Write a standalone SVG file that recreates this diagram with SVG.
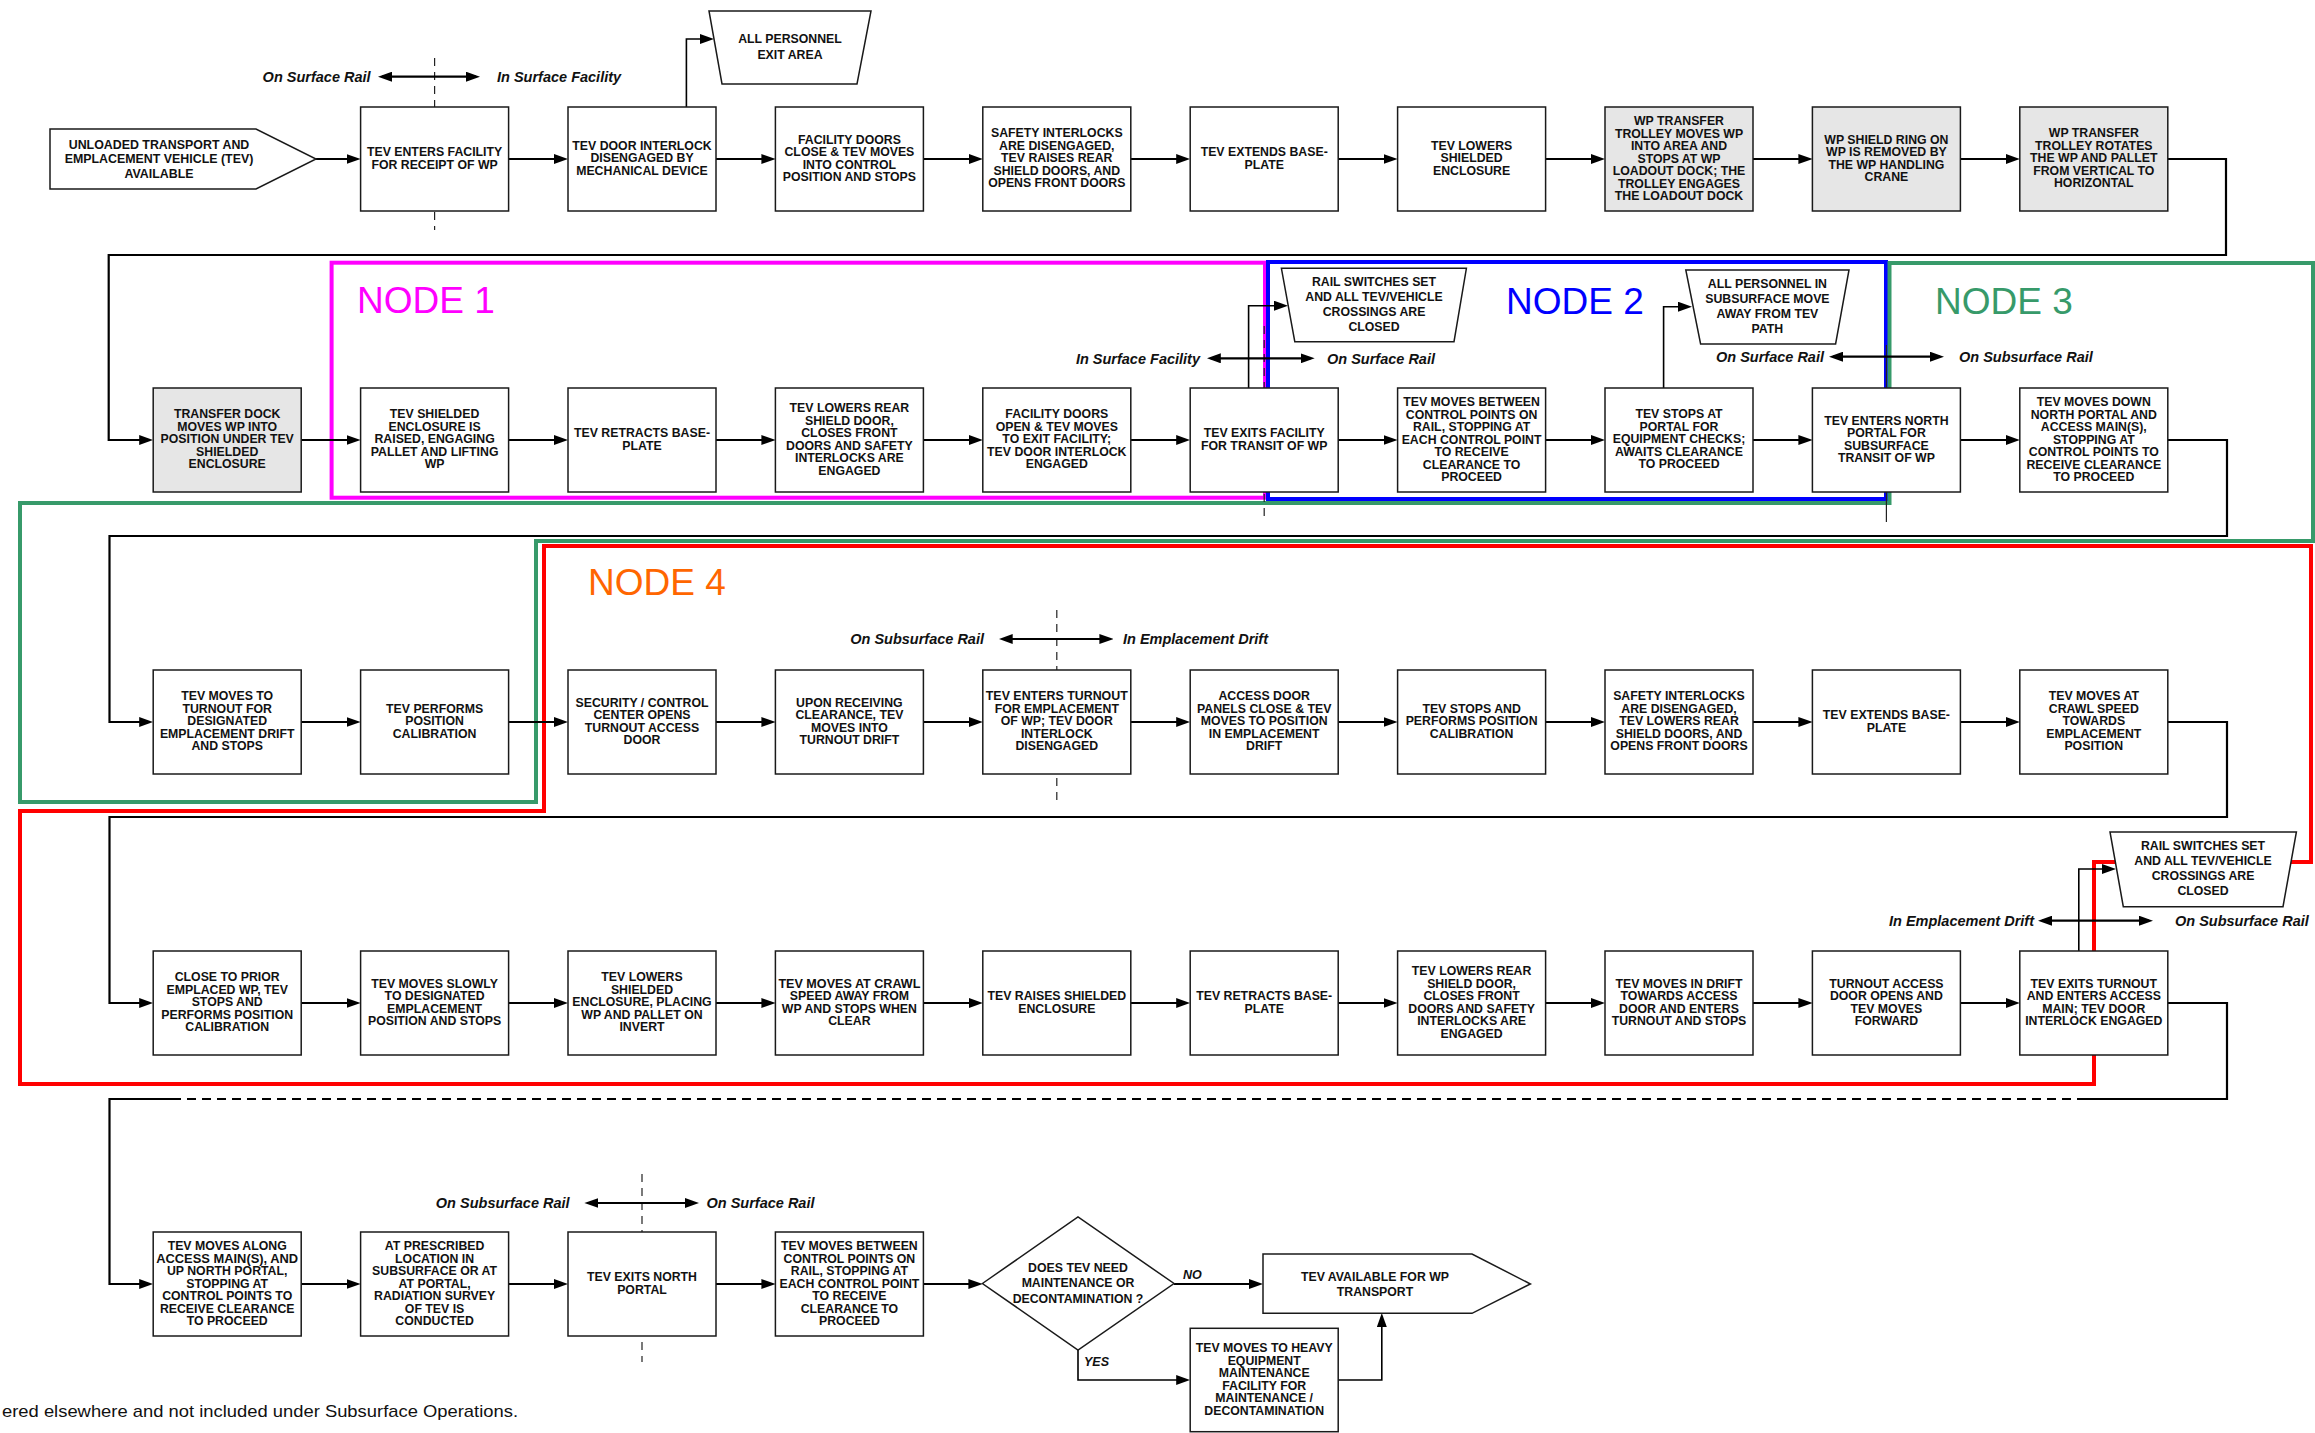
<svg xmlns="http://www.w3.org/2000/svg" width="2315" height="1433" viewBox="0 0 2315 1433">
<defs>
<style>
.box{fill:#fff;stroke:#1a1a1a;stroke-width:1.5}
.gray{fill:#e6e6e6}
.t{font-family:"Liberation Sans",Arial,sans-serif;font-weight:bold;font-size:12.3px;fill:#111;text-anchor:middle}
.tl{font-family:"Liberation Sans",Arial,sans-serif;font-weight:bold;font-size:12.4px;fill:#111;text-anchor:middle}
.lbl{font-family:"Liberation Sans",Arial,sans-serif;font-weight:bold;font-style:italic;font-size:14.5px;fill:#111}
.yn{font-family:"Liberation Sans",Arial,sans-serif;font-weight:bold;font-style:italic;font-size:12.5px;fill:#111}
.end{text-anchor:end}
.flow{fill:none;stroke:#000;stroke-width:2.2;marker-end:url(#ah)}
.plain{fill:none;stroke:#000;stroke-width:2.2}
.dash{fill:none;stroke:#000;stroke-width:2.2;stroke-dasharray:9 6}
.branch{fill:none;stroke:#000;stroke-width:1.6;marker-end:url(#ah)}
.dbl{fill:none;stroke:#000;stroke-width:2.2;marker-start:url(#ah);marker-end:url(#ah)}
.div{stroke:#222;stroke-width:1.2;stroke-dasharray:8 6}
.divs{stroke:#222;stroke-width:1.2}
.zone{fill:none;stroke-width:4}
.big{font-family:"Liberation Sans",Arial,sans-serif;font-size:37px}
.note{font-family:"Liberation Sans",Arial,sans-serif;font-size:17px;fill:#111}
</style>
<marker id="ah" viewBox="0 0 14 10" refX="10" refY="5" markerWidth="14" markerHeight="10" markerUnits="userSpaceOnUse" orient="auto-start-reverse">
<path d="M0,0 L14,5 L0,10 z" fill="#000"/>
</marker>
</defs>
<rect x="0" y="0" width="2315" height="1433" fill="#fff"/>

<!-- node groupings -->
<g id="zones">
<rect class="zone" x="331.6" y="262.7" width="933.4" height="235" stroke="#ff00ff"/>
<rect class="zone" x="1268" y="262" width="618" height="237" stroke="#0000ff"/>
<polygon class="zone" stroke="#379a6a" points="1889.5,263 2313,263 2313,541 536,541 536,802 20,802 20,503 1889.5,503"/>
<polygon class="zone" stroke="#ff0000" points="20,811 544,811 544,546 2311,546 2311,862 2094,862 2094,1084 20,1084"/>
<text class="big" x="357" y="313" fill="#ff00ff">NODE 1</text>
<text class="big" x="1506" y="314" fill="#0000ff">NODE 2</text>
<text class="big" x="1935" y="314" fill="#379a6a">NODE 3</text>
<text class="big" x="588" y="595" fill="#ff6600">NODE 4</text>
</g>

<!-- location boundaries -->
<g id="boundaries">
<line class="div" x1="434.6" y1="58" x2="434.6" y2="230"/>
<line class="div" x1="1264.2" y1="326" x2="1264.2" y2="516"/>
<line class="divs" x1="1886.4" y1="345" x2="1886.4" y2="522"/>
<line class="div" x1="1056.8" y1="610" x2="1056.8" y2="800"/>
<line class="div" x1="642" y1="1174" x2="642" y2="1362"/>
<path class="dbl" d="M382,76.7 H476"/>
<text class="lbl end" x="370.6" y="82">On Surface Rail</text>
<text class="lbl" x="497" y="82">In Surface Facility</text>
<path class="dbl" d="M1210.8,358.3 H1310.7"/>
<text class="lbl end" x="1200" y="363.5">In Surface Facility</text>
<text class="lbl" x="1327" y="363.5">On Surface Rail</text>
<path class="dbl" d="M1833,356.7 H1940"/>
<text class="lbl end" x="1824" y="362">On Surface Rail</text>
<text class="lbl" x="1959" y="362">On Subsurface Rail</text>
<path class="dbl" d="M1002.7,639 H1109.4"/>
<text class="lbl end" x="984" y="644">On Subsurface Rail</text>
<text class="lbl" x="1123" y="644">In Emplacement Drift</text>
<path class="dbl" d="M2042,920.7 H2149"/>
<text class="lbl end" x="2034" y="926">In Emplacement Drift</text>
<text class="lbl" x="2175" y="926">On Subsurface Rail</text>
<path class="dbl" d="M588.4,1203 H695"/>
<text class="lbl end" x="569.6" y="1208">On Subsurface Rail</text>
<text class="lbl" x="706.5" y="1208">On Surface Rail</text>
</g>

<g id="connectors">
<!-- row 1 -->
<path class="flow" d="M316,159 H356.6"/>
<path class="flow" d="M508.6,159 H564"/>
<path class="flow" d="M716,159 H771.4"/>
<path class="flow" d="M923.4,159 H978.8"/>
<path class="flow" d="M1130.8,159 H1186.2"/>
<path class="flow" d="M1338.2,159 H1393.6"/>
<path class="flow" d="M1545.6,159 H1601"/>
<path class="flow" d="M1753,159 H1808.4"/>
<path class="flow" d="M1960.4,159 H2015.8"/>
<path class="branch" d="M686.4,107 V39 H710"/>
<path class="flow" d="M2167.8,159 H2226 V255 H108.7 V440 H149.2"/>
<!-- row 2 -->
<path class="flow" d="M301.2,440 H356.6"/>
<path class="flow" d="M508.6,440 H564"/>
<path class="flow" d="M716,440 H771.4"/>
<path class="flow" d="M923.4,440 H978.8"/>
<path class="flow" d="M1130.8,440 H1186.2"/>
<path class="flow" d="M1338.2,440 H1393.6"/>
<path class="flow" d="M1545.6,440 H1601"/>
<path class="flow" d="M1753,440 H1808.4"/>
<path class="flow" d="M1960.4,440 H2015.8"/>
<path class="branch" d="M1248.6,388 V305.7 H1284"/>
<path class="branch" d="M1663.6,388 V306.7 H1688"/>
<path class="flow" d="M2167.8,440 H2227 V536 H109.5 V722 H149.2"/>
<!-- row 3 -->
<path class="flow" d="M301.2,722 H356.6"/>
<path class="flow" d="M508.6,722 H564"/>
<path class="flow" d="M716,722 H771.4"/>
<path class="flow" d="M923.4,722 H978.8"/>
<path class="flow" d="M1130.8,722 H1186.2"/>
<path class="flow" d="M1338.2,722 H1393.6"/>
<path class="flow" d="M1545.6,722 H1601"/>
<path class="flow" d="M1753,722 H1808.4"/>
<path class="flow" d="M1960.4,722 H2015.8"/>
<path class="flow" d="M2167.8,722 H2227 V817 H109.5 V1003 H149.2"/>
<!-- row 4 -->
<path class="flow" d="M301.2,1003 H356.6"/>
<path class="flow" d="M508.6,1003 H564"/>
<path class="flow" d="M716,1003 H771.4"/>
<path class="flow" d="M923.4,1003 H978.8"/>
<path class="flow" d="M1130.8,1003 H1186.2"/>
<path class="flow" d="M1338.2,1003 H1393.6"/>
<path class="flow" d="M1545.6,1003 H1601"/>
<path class="flow" d="M1753,1003 H1808.4"/>
<path class="flow" d="M1960.4,1003 H2015.8"/>
<path class="branch" d="M2078.8,951 V869 H2112"/>
<path class="plain" d="M2167.8,1003 H2227 V1099 H2086"/>
<path class="dash" d="M2086,1099 H181"/>
<path class="flow" d="M181,1099 H109.5 V1284 H149.2"/>
<!-- row 5 -->
<path class="flow" d="M301.2,1284 H356.6"/>
<path class="flow" d="M508.6,1284 H564"/>
<path class="flow" d="M716,1284 H771.4"/>
<path class="flow" d="M923.4,1284 H978.4"/>
<path class="flow" d="M1174,1284 H1259"/>
<path class="branch" d="M1078,1350 V1380 H1186.2"/>
<path class="branch" d="M1338.2,1380 H1381.8 V1317"/>
<text class="yn" x="1183" y="1278.5">NO</text>
<text class="yn" x="1084" y="1366">YES</text>
</g>

<!-- row 1 -->
<g id="n-start"><polygon class="box" points="50,129 256,129 316,159 256,189 50,189"/>
<text class="tl" x="159" y="149"><tspan x="159">UNLOADED TRANSPORT AND</tspan><tspan x="159" dy="14.3">EMPLACEMENT VEHICLE (TEV)</tspan><tspan x="159" dy="14.3">AVAILABLE</tspan></text></g>
<g id="n-personnel-exit"><polygon class="box" points="709,11 871,11 857,84 722,84"/>
<text class="t" x="790" y="42.8"><tspan x="790">ALL PERSONNEL</tspan><tspan x="790" dy="16">EXIT AREA</tspan></text></g>
<g id="n1-1"><rect class="box" x="360.6" y="107" width="148" height="104"/>
<text class="t" y="156"><tspan x="434.6">TEV ENTERS FACILITY</tspan><tspan x="434.6" dy="12.5">FOR RECEIPT OF WP</tspan></text></g>
<g id="n1-2"><rect class="box" x="568" y="107" width="148" height="104"/>
<text class="t" y="149.8"><tspan x="642">TEV DOOR INTERLOCK</tspan><tspan x="642" dy="12.5">DISENGAGED BY</tspan><tspan x="642" dy="12.5">MECHANICAL DEVICE</tspan></text></g>
<g id="n1-3"><rect class="box" x="775.4" y="107" width="148" height="104"/>
<text class="t" y="143.6"><tspan x="849.4">FACILITY DOORS</tspan><tspan x="849.4" dy="12.5">CLOSE &amp; TEV MOVES</tspan><tspan x="849.4" dy="12.5">INTO CONTROL</tspan><tspan x="849.4" dy="12.5">POSITION AND STOPS</tspan></text></g>
<g id="n1-4"><rect class="box" x="982.8" y="107" width="148" height="104"/>
<text class="t" y="137.4"><tspan x="1056.8">SAFETY INTERLOCKS</tspan><tspan x="1056.8" dy="12.5">ARE DISENGAGED,</tspan><tspan x="1056.8" dy="12.5">TEV RAISES REAR</tspan><tspan x="1056.8" dy="12.5">SHIELD DOORS, AND</tspan><tspan x="1056.8" dy="12.5">OPENS FRONT DOORS</tspan></text></g>
<g id="n1-5"><rect class="box" x="1190.2" y="107" width="148" height="104"/>
<text class="t" y="156"><tspan x="1264.2">TEV EXTENDS BASE-</tspan><tspan x="1264.2" dy="12.5">PLATE</tspan></text></g>
<g id="n1-6"><rect class="box" x="1397.6" y="107" width="148" height="104"/>
<text class="t" y="149.8"><tspan x="1471.6">TEV LOWERS</tspan><tspan x="1471.6" dy="12.5">SHIELDED</tspan><tspan x="1471.6" dy="12.5">ENCLOSURE</tspan></text></g>
<g id="n1-7"><rect class="box gray" x="1605" y="107" width="148" height="104"/>
<text class="t" y="125"><tspan x="1679">WP TRANSFER</tspan><tspan x="1679" dy="12.5">TROLLEY MOVES WP</tspan><tspan x="1679" dy="12.5">INTO AREA AND</tspan><tspan x="1679" dy="12.5">STOPS AT WP</tspan><tspan x="1679" dy="12.5">LOADOUT DOCK; THE</tspan><tspan x="1679" dy="12.5">TROLLEY ENGAGES</tspan><tspan x="1679" dy="12.5">THE LOADOUT DOCK</tspan></text></g>
<g id="n1-8"><rect class="box gray" x="1812.4" y="107" width="148" height="104"/>
<text class="t" y="143.6"><tspan x="1886.4">WP SHIELD RING ON</tspan><tspan x="1886.4" dy="12.5">WP IS REMOVED BY</tspan><tspan x="1886.4" dy="12.5">THE WP HANDLING</tspan><tspan x="1886.4" dy="12.5">CRANE</tspan></text></g>
<g id="n1-9"><rect class="box gray" x="2019.8" y="107" width="148" height="104"/>
<text class="t" y="137.4"><tspan x="2093.8">WP TRANSFER</tspan><tspan x="2093.8" dy="12.5">TROLLEY ROTATES</tspan><tspan x="2093.8" dy="12.5">THE WP AND PALLET</tspan><tspan x="2093.8" dy="12.5">FROM VERTICAL TO</tspan><tspan x="2093.8" dy="12.5">HORIZONTAL</tspan></text></g>

<!-- row 2 -->
<g id="n2-0"><rect class="box gray" x="153.2" y="388" width="148" height="104"/>
<text class="t" y="418.4"><tspan x="227.2">TRANSFER DOCK</tspan><tspan x="227.2" dy="12.5">MOVES WP INTO</tspan><tspan x="227.2" dy="12.5">POSITION UNDER TEV</tspan><tspan x="227.2" dy="12.5">SHIELDED</tspan><tspan x="227.2" dy="12.5">ENCLOSURE</tspan></text></g>
<g id="n2-1"><rect class="box" x="360.6" y="388" width="148" height="104"/>
<text class="t" y="418.4"><tspan x="434.6">TEV SHIELDED</tspan><tspan x="434.6" dy="12.5">ENCLOSURE IS</tspan><tspan x="434.6" dy="12.5">RAISED, ENGAGING</tspan><tspan x="434.6" dy="12.5">PALLET AND LIFTING</tspan><tspan x="434.6" dy="12.5">WP</tspan></text></g>
<g id="n2-2"><rect class="box" x="568" y="388" width="148" height="104"/>
<text class="t" y="437"><tspan x="642">TEV RETRACTS BASE-</tspan><tspan x="642" dy="12.5">PLATE</tspan></text></g>
<g id="n2-3"><rect class="box" x="775.4" y="388" width="148" height="104"/>
<text class="t" y="412.2"><tspan x="849.4">TEV LOWERS REAR</tspan><tspan x="849.4" dy="12.5">SHIELD DOOR,</tspan><tspan x="849.4" dy="12.5">CLOSES FRONT</tspan><tspan x="849.4" dy="12.5">DOORS AND SAFETY</tspan><tspan x="849.4" dy="12.5">INTERLOCKS ARE</tspan><tspan x="849.4" dy="12.5">ENGAGED</tspan></text></g>
<g id="n2-4"><rect class="box" x="982.8" y="388" width="148" height="104"/>
<text class="t" y="418.4"><tspan x="1056.8">FACILITY DOORS</tspan><tspan x="1056.8" dy="12.5">OPEN &amp; TEV MOVES</tspan><tspan x="1056.8" dy="12.5">TO EXIT FACILITY;</tspan><tspan x="1056.8" dy="12.5">TEV DOOR INTERLOCK</tspan><tspan x="1056.8" dy="12.5">ENGAGED</tspan></text></g>
<g id="n2-5"><rect class="box" x="1190.2" y="388" width="148" height="104"/>
<text class="t" y="437"><tspan x="1264.2">TEV EXITS FACILITY</tspan><tspan x="1264.2" dy="12.5">FOR TRANSIT OF WP</tspan></text></g>
<g id="n2-switches"><polygon class="box" points="1281.4,268.3 1466.4,268.3 1454,341.7 1294.8,341.7"/>
<text class="t" y="285.9"><tspan x="1374">RAIL SWITCHES SET</tspan><tspan x="1374" dy="15">AND ALL TEV/VEHICLE</tspan><tspan x="1374" dy="15">CROSSINGS ARE</tspan><tspan x="1374" dy="15">CLOSED</tspan></text></g>
<g id="n2-6"><rect class="box" x="1397.6" y="388" width="148" height="104"/>
<text class="t" y="406"><tspan x="1471.6">TEV MOVES BETWEEN</tspan><tspan x="1471.6" dy="12.5">CONTROL POINTS ON</tspan><tspan x="1471.6" dy="12.5">RAIL, STOPPING AT</tspan><tspan x="1471.6" dy="12.5">EACH CONTROL POINT</tspan><tspan x="1471.6" dy="12.5">TO RECEIVE</tspan><tspan x="1471.6" dy="12.5">CLEARANCE TO</tspan><tspan x="1471.6" dy="12.5">PROCEED</tspan></text></g>
<g id="n2-7"><rect class="box" x="1605" y="388" width="148" height="104"/>
<text class="t" y="418.4"><tspan x="1679">TEV STOPS AT</tspan><tspan x="1679" dy="12.5">PORTAL FOR</tspan><tspan x="1679" dy="12.5">EQUIPMENT CHECKS;</tspan><tspan x="1679" dy="12.5">AWAITS CLEARANCE</tspan><tspan x="1679" dy="12.5">TO PROCEED</tspan></text></g>
<g id="n2-personnel"><polygon class="box" points="1685.8,270 1849,270 1835.6,344 1700.6,344"/>
<text class="t" y="287.5"><tspan x="1767.4">ALL PERSONNEL IN</tspan><tspan x="1767.4" dy="15">SUBSURFACE MOVE</tspan><tspan x="1767.4" dy="15">AWAY FROM TEV</tspan><tspan x="1767.4" dy="15">PATH</tspan></text></g>
<g id="n2-8"><rect class="box" x="1812.4" y="388" width="148" height="104"/>
<text class="t" y="424.6"><tspan x="1886.4">TEV ENTERS NORTH</tspan><tspan x="1886.4" dy="12.5">PORTAL FOR</tspan><tspan x="1886.4" dy="12.5">SUBSURFACE</tspan><tspan x="1886.4" dy="12.5">TRANSIT OF WP</tspan></text></g>
<g id="n2-9"><rect class="box" x="2019.8" y="388" width="148" height="104"/>
<text class="t" y="406"><tspan x="2093.8">TEV MOVES DOWN</tspan><tspan x="2093.8" dy="12.5">NORTH PORTAL AND</tspan><tspan x="2093.8" dy="12.5">ACCESS MAIN(S),</tspan><tspan x="2093.8" dy="12.5">STOPPING AT</tspan><tspan x="2093.8" dy="12.5">CONTROL POINTS TO</tspan><tspan x="2093.8" dy="12.5">RECEIVE CLEARANCE</tspan><tspan x="2093.8" dy="12.5">TO PROCEED</tspan></text></g>

<!-- row 3 -->
<g id="n3-0"><rect class="box" x="153.2" y="670" width="148" height="104"/>
<text class="t" y="700.4"><tspan x="227.2">TEV MOVES TO</tspan><tspan x="227.2" dy="12.5">TURNOUT FOR</tspan><tspan x="227.2" dy="12.5">DESIGNATED</tspan><tspan x="227.2" dy="12.5">EMPLACEMENT DRIFT</tspan><tspan x="227.2" dy="12.5">AND STOPS</tspan></text></g>
<g id="n3-1"><rect class="box" x="360.6" y="670" width="148" height="104"/>
<text class="t" y="712.8"><tspan x="434.6">TEV PERFORMS</tspan><tspan x="434.6" dy="12.5">POSITION</tspan><tspan x="434.6" dy="12.5">CALIBRATION</tspan></text></g>
<g id="n3-2"><rect class="box" x="568" y="670" width="148" height="104"/>
<text class="t" y="706.6"><tspan x="642">SECURITY / CONTROL</tspan><tspan x="642" dy="12.5">CENTER OPENS</tspan><tspan x="642" dy="12.5">TURNOUT ACCESS</tspan><tspan x="642" dy="12.5">DOOR</tspan></text></g>
<g id="n3-3"><rect class="box" x="775.4" y="670" width="148" height="104"/>
<text class="t" y="706.6"><tspan x="849.4">UPON RECEIVING</tspan><tspan x="849.4" dy="12.5">CLEARANCE, TEV</tspan><tspan x="849.4" dy="12.5">MOVES INTO</tspan><tspan x="849.4" dy="12.5">TURNOUT DRIFT</tspan></text></g>
<g id="n3-4"><rect class="box" x="982.8" y="670" width="148" height="104"/>
<text class="t" y="700.4"><tspan x="1056.8" textLength="142" lengthAdjust="spacingAndGlyphs">TEV ENTERS TURNOUT</tspan><tspan x="1056.8" dy="12.5">FOR EMPLACEMENT</tspan><tspan x="1056.8" dy="12.5">OF WP;  TEV DOOR</tspan><tspan x="1056.8" dy="12.5">INTERLOCK</tspan><tspan x="1056.8" dy="12.5">DISENGAGED</tspan></text></g>
<g id="n3-5"><rect class="box" x="1190.2" y="670" width="148" height="104"/>
<text class="t" y="700.4"><tspan x="1264.2">ACCESS DOOR</tspan><tspan x="1264.2" dy="12.5">PANELS CLOSE &amp; TEV</tspan><tspan x="1264.2" dy="12.5">MOVES TO POSITION</tspan><tspan x="1264.2" dy="12.5">IN EMPLACEMENT</tspan><tspan x="1264.2" dy="12.5">DRIFT</tspan></text></g>
<g id="n3-6"><rect class="box" x="1397.6" y="670" width="148" height="104"/>
<text class="t" y="712.8"><tspan x="1471.6">TEV STOPS AND</tspan><tspan x="1471.6" dy="12.5">PERFORMS POSITION</tspan><tspan x="1471.6" dy="12.5">CALIBRATION</tspan></text></g>
<g id="n3-7"><rect class="box" x="1605" y="670" width="148" height="104"/>
<text class="t" y="700.4"><tspan x="1679">SAFETY INTERLOCKS</tspan><tspan x="1679" dy="12.5">ARE DISENGAGED,</tspan><tspan x="1679" dy="12.5">TEV LOWERS REAR</tspan><tspan x="1679" dy="12.5">SHIELD DOORS, AND</tspan><tspan x="1679" dy="12.5">OPENS FRONT DOORS</tspan></text></g>
<g id="n3-8"><rect class="box" x="1812.4" y="670" width="148" height="104"/>
<text class="t" y="719"><tspan x="1886.4">TEV EXTENDS BASE-</tspan><tspan x="1886.4" dy="12.5">PLATE</tspan></text></g>
<g id="n3-9"><rect class="box" x="2019.8" y="670" width="148" height="104"/>
<text class="t" y="700.4"><tspan x="2093.8">TEV MOVES AT</tspan><tspan x="2093.8" dy="12.5">CRAWL SPEED</tspan><tspan x="2093.8" dy="12.5">TOWARDS</tspan><tspan x="2093.8" dy="12.5">EMPLACEMENT</tspan><tspan x="2093.8" dy="12.5">POSITION</tspan></text></g>

<!-- row 4 -->
<g id="n4-0"><rect class="box" x="153.2" y="951" width="148" height="104"/>
<text class="t" y="981.4"><tspan x="227.2">CLOSE TO PRIOR</tspan><tspan x="227.2" dy="12.5">EMPLACED WP, TEV</tspan><tspan x="227.2" dy="12.5">STOPS AND</tspan><tspan x="227.2" dy="12.5">PERFORMS POSITION</tspan><tspan x="227.2" dy="12.5">CALIBRATION</tspan></text></g>
<g id="n4-1"><rect class="box" x="360.6" y="951" width="148" height="104"/>
<text class="t" y="987.6"><tspan x="434.6">TEV MOVES SLOWLY</tspan><tspan x="434.6" dy="12.5">TO DESIGNATED</tspan><tspan x="434.6" dy="12.5">EMPLACEMENT</tspan><tspan x="434.6" dy="12.5">POSITION AND STOPS</tspan></text></g>
<g id="n4-2"><rect class="box" x="568" y="951" width="148" height="104"/>
<text class="t" y="981.4"><tspan x="642">TEV LOWERS</tspan><tspan x="642" dy="12.5">SHIELDED</tspan><tspan x="642" dy="12.5">ENCLOSURE, PLACING</tspan><tspan x="642" dy="12.5">WP AND PALLET ON</tspan><tspan x="642" dy="12.5">INVERT</tspan></text></g>
<g id="n4-3"><rect class="box" x="775.4" y="951" width="148" height="104"/>
<text class="t" y="987.6"><tspan x="849.4" textLength="142" lengthAdjust="spacingAndGlyphs">TEV MOVES AT CRAWL</tspan><tspan x="849.4" dy="12.5">SPEED AWAY FROM</tspan><tspan x="849.4" dy="12.5">WP AND STOPS WHEN</tspan><tspan x="849.4" dy="12.5">CLEAR</tspan></text></g>
<g id="n4-4"><rect class="box" x="982.8" y="951" width="148" height="104"/>
<text class="t" y="1000"><tspan x="1056.8">TEV RAISES SHIELDED</tspan><tspan x="1056.8" dy="12.5">ENCLOSURE</tspan></text></g>
<g id="n4-5"><rect class="box" x="1190.2" y="951" width="148" height="104"/>
<text class="t" y="1000"><tspan x="1264.2">TEV RETRACTS BASE-</tspan><tspan x="1264.2" dy="12.5">PLATE</tspan></text></g>
<g id="n4-6"><rect class="box" x="1397.6" y="951" width="148" height="104"/>
<text class="t" y="975.2"><tspan x="1471.6">TEV LOWERS REAR</tspan><tspan x="1471.6" dy="12.5">SHIELD DOOR,</tspan><tspan x="1471.6" dy="12.5">CLOSES FRONT</tspan><tspan x="1471.6" dy="12.5">DOORS AND SAFETY</tspan><tspan x="1471.6" dy="12.5">INTERLOCKS ARE</tspan><tspan x="1471.6" dy="12.5">ENGAGED</tspan></text></g>
<g id="n4-7"><rect class="box" x="1605" y="951" width="148" height="104"/>
<text class="t" y="987.6"><tspan x="1679">TEV MOVES IN DRIFT</tspan><tspan x="1679" dy="12.5">TOWARDS ACCESS</tspan><tspan x="1679" dy="12.5">DOOR AND ENTERS</tspan><tspan x="1679" dy="12.5">TURNOUT AND STOPS</tspan></text></g>
<g id="n4-8"><rect class="box" x="1812.4" y="951" width="148" height="104"/>
<text class="t" y="987.6"><tspan x="1886.4">TURNOUT ACCESS</tspan><tspan x="1886.4" dy="12.5">DOOR OPENS AND</tspan><tspan x="1886.4" dy="12.5">TEV MOVES</tspan><tspan x="1886.4" dy="12.5">FORWARD</tspan></text></g>
<g id="n4-9"><rect class="box" x="2019.8" y="951" width="148" height="104"/>
<text class="t" y="987.6"><tspan x="2093.8">TEV EXITS TURNOUT</tspan><tspan x="2093.8" dy="12.5">AND ENTERS ACCESS</tspan><tspan x="2093.8" dy="12.5">MAIN; TEV DOOR</tspan><tspan x="2093.8" dy="12.5">INTERLOCK ENGAGED</tspan></text></g>
<g id="n4-switches"><polygon class="box" points="2110,832 2296.4,832 2283,906.7 2123.3,906.7"/>
<text class="t" y="849.9"><tspan x="2203">RAIL SWITCHES SET</tspan><tspan x="2203" dy="15">AND ALL TEV/VEHICLE</tspan><tspan x="2203" dy="15">CROSSINGS ARE</tspan><tspan x="2203" dy="15">CLOSED</tspan></text></g>

<!-- row 5 -->
<g id="n5-0"><rect class="box" x="153.2" y="1232" width="148" height="104"/>
<text class="t" y="1250"><tspan x="227.2">TEV MOVES ALONG</tspan><tspan x="227.2" dy="12.5" textLength="142" lengthAdjust="spacingAndGlyphs">ACCESS MAIN(S), AND</tspan><tspan x="227.2" dy="12.5">UP NORTH PORTAL,</tspan><tspan x="227.2" dy="12.5">STOPPING AT</tspan><tspan x="227.2" dy="12.5">CONTROL POINTS TO</tspan><tspan x="227.2" dy="12.5">RECEIVE CLEARANCE</tspan><tspan x="227.2" dy="12.5">TO PROCEED</tspan></text></g>
<g id="n5-1"><rect class="box" x="360.6" y="1232" width="148" height="104"/>
<text class="t" y="1250"><tspan x="434.6">AT PRESCRIBED</tspan><tspan x="434.6" dy="12.5">LOCATION IN</tspan><tspan x="434.6" dy="12.5">SUBSURFACE OR AT</tspan><tspan x="434.6" dy="12.5">AT PORTAL,</tspan><tspan x="434.6" dy="12.5">RADIATION SURVEY</tspan><tspan x="434.6" dy="12.5">OF TEV IS</tspan><tspan x="434.6" dy="12.5">CONDUCTED</tspan></text></g>
<g id="n5-2"><rect class="box" x="568" y="1232" width="148" height="104"/>
<text class="t" y="1281"><tspan x="642">TEV EXITS NORTH</tspan><tspan x="642" dy="12.5">PORTAL</tspan></text></g>
<g id="n5-3"><rect class="box" x="775.4" y="1232" width="148" height="104"/>
<text class="t" y="1250"><tspan x="849.4">TEV MOVES BETWEEN</tspan><tspan x="849.4" dy="12.5">CONTROL POINTS ON</tspan><tspan x="849.4" dy="12.5">RAIL, STOPPING AT</tspan><tspan x="849.4" dy="12.5">EACH CONTROL POINT</tspan><tspan x="849.4" dy="12.5">TO RECEIVE</tspan><tspan x="849.4" dy="12.5">CLEARANCE TO</tspan><tspan x="849.4" dy="12.5">PROCEED</tspan></text></g>
<g id="n5-decision"><polygon class="box" points="982.4,1283.5 1078,1217 1174,1283.5 1078,1350"/>
<text class="t" y="1271.7"><tspan x="1078">DOES TEV NEED</tspan><tspan x="1078" dy="15.5">MAINTENANCE OR</tspan><tspan x="1078" dy="15.5">DECONTAMINATION ?</tspan></text></g>
<g id="n5-available"><polygon class="box" points="1263,1254 1472,1254 1530.4,1284 1472,1313.3 1263,1313.3"/>
<text class="t" y="1280.7"><tspan x="1375">TEV AVAILABLE FOR WP</tspan><tspan x="1375" dy="15">TRANSPORT</tspan></text></g>
<g id="n5-maintenance"><rect class="box" x="1190.2" y="1328.3" width="148" height="103.4"/>
<text class="t" y="1352.2"><tspan x="1264.2">TEV MOVES TO HEAVY</tspan><tspan x="1264.2" dy="12.5">EQUIPMENT</tspan><tspan x="1264.2" dy="12.5">MAINTENANCE</tspan><tspan x="1264.2" dy="12.5">FACILITY FOR</tspan><tspan x="1264.2" dy="12.5">MAINTENANCE /</tspan><tspan x="1264.2" dy="12.5">DECONTAMINATION</tspan></text></g>

<text class="note" x="2" y="1417" textLength="516" lengthAdjust="spacingAndGlyphs">ered elsewhere and not included under Subsurface Operations.</text>
</svg>
